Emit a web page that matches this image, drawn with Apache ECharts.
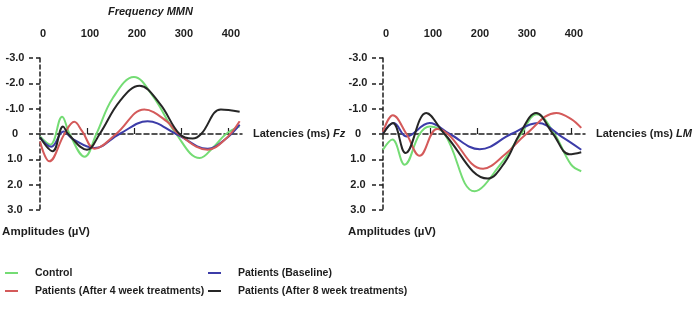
<!DOCTYPE html>
<html>
<head>
<meta charset="utf-8">
<script src="https://cdn.jsdelivr.net/npm/echarts@6/dist/echarts.min.js"></script>
<style>
  html, body { margin: 0; padding: 0; background: #fff; }
  #chart { width: 694px; height: 311px; }
</style>
</head>
<body>
<div id="chart"></div>
<script>
// latency (ms), amplitude (uV, positive drawn downward)
const fzControl = [[0, 0.1], [22, 0.42], [47, -0.68], [63, 0], [95, 0.9], [120, 0], [155, -1.42], [200, -2.25], [240, -1.5], [290, 0], [340, 0.95], [370, 0.5], [396, 0], [425, -0.3]];
const fzBaseline = [[0, 0.13], [24, 0.5], [50, -0.1], [70, 0.2], [116, 0.55], [169, 0], [229, -0.5], [290, 0], [357, 0.58], [395, 0.2], [425, -0.37]];
const fzWeek4 = [[0, 0.3], [20, 1.08], [52, 0], [73, -0.48], [90, -0.1], [116, 0.58], [162, 0], [222, -0.97], [270, -0.5], [295, 0], [357, 0.62], [395, 0.2], [425, -0.5]];
const fzWeek8 = [[0, 0.13], [27, 0.68], [49, -0.3], [60, 0], [100, 0.62], [127, 0], [170, -1.3], [212, -1.9], [255, -1.2], [297, 0], [325, 0.18], [343, 0], [385, -0.97], [425, -0.88]];

const lmControl = [[0, 0.62], [20, 0.22], [46, 1.21], [78, 0], [99, -0.3], [131, 0], [195, 2.26], [250, 1.2], [294, 0], [327, -0.78], [365, 0], [400, 1.2], [422, 1.47]];
const lmBaseline = [[0, -0.04], [23, -0.43], [50, 0.1], [99, -0.43], [142, 0], [206, 0.6], [273, 0], [330, -0.43], [380, 0.1], [422, 0.62]];
const lmWeek4 = [[0, -0.08], [21, -0.74], [50, 0], [78, 0.86], [115, -0.2], [138, 0], [213, 1.37], [260, 0.8], [305, 0], [369, -0.83], [400, -0.6], [422, -0.24]];
const lmWeek8 = [[0, 0], [21, -0.43], [48, 0.75], [92, -0.83], [131, 0], [223, 1.76], [260, 1.1], [291, 0], [326, -0.83], [362, 0], [397, 0.8], [422, 0.72]];

const seriesNames = ["Control", "Patients (Baseline)", "Patients (After 4 week treatments)", "Patients (After 8 week treatments)"];
const xTickLabels = [0, 100, 200, 300, 400];
const yTickLabels = ["-3.0", "-2.0", "-1.0", "0", "1.0", "2.0", "3.0"];

const colors = ["#74dc74", "#3c3ca8", "#d45a5a", "#262626"];
const font = "'Liberation Sans', Arial, sans-serif";
const ink = "#1e1e1e";

const myChart = echarts.init(document.getElementById("chart"));

// 两个面板共用的坐标轴
function panelAxes(gi, site) {
  const top = {
    gridIndex: gi, type: "value", min: 0, max: 430, position: "top", offset: 11,
    axisLine: { show: false, onZero: false }, axisTick: { show: false }, splitLine: { show: false },
    axisLabel: { customValues: xTickLabels, color: ink, fontFamily: font, fontWeight: "bold", fontSize: 11, margin: 8, padding: [0, 0, 0, 6] },
  };
  const zero = {
    gridIndex: gi, type: "value", min: 0, max: 430,
    axisLine: { onZero: true, lineStyle: { color: ink, width: 1.5, type: [5, 3] } },
    axisTick: { show: true, inside: true, length: 6, customValues: [100, 200, 300, 400], lineStyle: { color: ink, width: 1.2 } },
    axisLabel: { show: false }, splitLine: { show: false },
    name: "Latencies (ms) {i|" + site + "}", nameLocation: "end", nameGap: 11,
    nameTextStyle: {
      color: ink, fontFamily: font, fontWeight: "bold", fontSize: 11,
      rich: { i: { fontFamily: font, fontWeight: "bold", fontStyle: "italic", fontSize: 11, color: ink } },
    },
  };
  return [top, zero];
}

function yAxisFor(gi, shift) {
  return {
    gridIndex: gi, type: "value", min: -3, max: 3, interval: 1, inverse: true,
    axisLine: { show: true, lineStyle: { color: ink, width: 1.5, type: [4, 3] } },
    axisTick: { show: true, length: 13, lineStyle: { color: ink, width: 1.5, type: [4, 3] } },
    axisLabel: { margin: 25, align: "center", color: ink, fontFamily: font, fontWeight: "bold", fontSize: 11, formatter: (v) => yTickLabels[Math.round(v) + 3] },
    splitLine: { show: false },
    name: "Amplitudes (µV)", nameLocation: "end", nameGap: 16,
    nameTextStyle: { color: ink, fontFamily: font, fontWeight: "bold", fontSize: 11.5, padding: [0, 0, 0, shift] },
  };
}

function line(name, data, xi, yi, color) {
  return {
    name, type: "line", data, xAxisIndex: xi, yAxisIndex: yi,
    smooth: 0.4, showSymbol: false, symbol: "none",
    lineStyle: { color, width: 2 }, itemStyle: { color },
  };
}

const legendText = { color: ink, fontFamily: font, fontWeight: "bold", fontSize: 10.5, lineHeight: 14, padding: [0, 0, 0, 12] };

myChart.setOption({
  backgroundColor: "#fff",
  animation: false,
  title: {
    text: "Frequency MMN", left: 103, top: 1,
    textStyle: { color: ink, fontFamily: font, fontWeight: "bold", fontStyle: "italic", fontSize: 11 },
  },
  legend: [
    { left: 5, top: 266, padding: 0, orient: "vertical", itemGap: 4, icon: "rect", itemWidth: 13, itemHeight: 2, textStyle: legendText, data: [seriesNames[0], seriesNames[2]] },
    { left: 208, top: 266, padding: 0, orient: "vertical", itemGap: 4, icon: "rect", itemWidth: 13, itemHeight: 2, textStyle: legendText, data: [seriesNames[1], seriesNames[3]] },
  ],
  grid: [
    { left: 40, top: 58, width: 202, height: 152 },
    { left: 383, top: 58, width: 202, height: 152 },
  ],
  xAxis: [...panelAxes(0, "Fz"), ...panelAxes(1, "LM")],
  yAxis: [yAxisFor(0, 12), yAxisFor(1, 18)],
  series: [
    line(seriesNames[0], fzControl, 1, 0, colors[0]),
    line(seriesNames[1], fzBaseline, 1, 0, colors[1]),
    line(seriesNames[2], fzWeek4, 1, 0, colors[2]),
    line(seriesNames[3], fzWeek8, 1, 0, colors[3]),
    line(seriesNames[0], lmControl, 3, 1, colors[0]),
    line(seriesNames[1], lmBaseline, 3, 1, colors[1]),
    line(seriesNames[2], lmWeek4, 3, 1, colors[2]),
    line(seriesNames[3], lmWeek8, 3, 1, colors[3]),
  ],
});
</script>
</body>
</html>
